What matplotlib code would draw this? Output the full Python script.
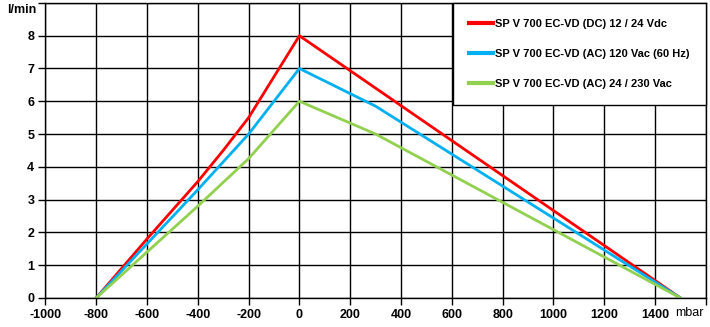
import matplotlib
matplotlib.use("Agg")
import matplotlib.pyplot as plt

plt.rcParams['font.family'] = ['Liberation Sans', 'DejaVu Sans']

# pressure (mbar) and flow (l/min) for each pump version
x_dc = [-800, -600, -400, -300, -200, 0, 1500]
y_dc = [0, 1.8, 3.55, 4.5, 5.5, 8, 0]

x_ac120 = [-800, -400, -200, 0, 300, 1500]
y_ac120 = [0, 3.3, 5.0, 7, 5.85, 0]

x_ac230 = [-800, -400, -200, 0, 300, 1500]
y_ac230 = [0, 2.8, 4.25, 6, 5.0, 0]

labels = ["SP V 700 EC-VD (DC) 12 / 24 Vdc",
          "SP V 700 EC-VD (AC) 120 Vac (60 Hz)",
          "SP V 700 EC-VD (AC) 24 / 230 Vac"]
colors = ["#ff0000", "#00b0f0", "#92d050"]

xticks = list(range(-1000, 1600, 200))
yticks = list(range(0, 9))

fig = plt.figure(figsize=(7.10, 3.27), dpi=100)
ax = fig.add_axes([0.064, 0.089, 0.930, 0.902])

ax.plot(x_dc, y_dc, color=colors[0], lw=2.0, label=labels[0])
ax.plot(x_ac120, y_ac120, color=colors[1], lw=2.0, label=labels[1])
ax.plot(x_ac230, y_ac230, color=colors[2], lw=2.0, label=labels[2])

ax.set_xlim(-1000, 1600)
ax.set_ylim(0, 9)
ax.set_xticks(xticks + [1600])
ax.set_xticklabels([str(t) for t in xticks] + [""])
ax.set_yticks(yticks + [9])
ax.set_yticklabels([str(t) for t in yticks] + [""])
ax.grid(True, color="black", lw=1)
ax.set_axisbelow(True)
for s in ax.spines.values():
    s.set_color("black")
    s.set_linewidth(1)
ax.tick_params(direction="out", length=5, width=1, labelsize=9, pad=3)
for lab in ax.get_xticklabels() + ax.get_yticklabels():
    lab.set_fontweight("bold")

ax.text(-0.014, 0.975, "l/min", transform=ax.transAxes, ha="right", va="center",
        fontsize=9, fontweight="bold")
ax.text(1478, -0.27, "mbar", ha="left", va="top", fontsize=9)

leg = ax.legend(loc="upper right", prop={"weight": "bold", "size": 8},
                frameon=True, fancybox=False, edgecolor="black", framealpha=1,
                borderpad=1.45, labelspacing=1.8, handlelength=2.2, handletextpad=0.15,
                borderaxespad=0)
leg.get_frame().set_linewidth(1)
for line in leg.get_lines():
    line.set_linewidth(3)

fig.savefig("out.png", dpi=100)
